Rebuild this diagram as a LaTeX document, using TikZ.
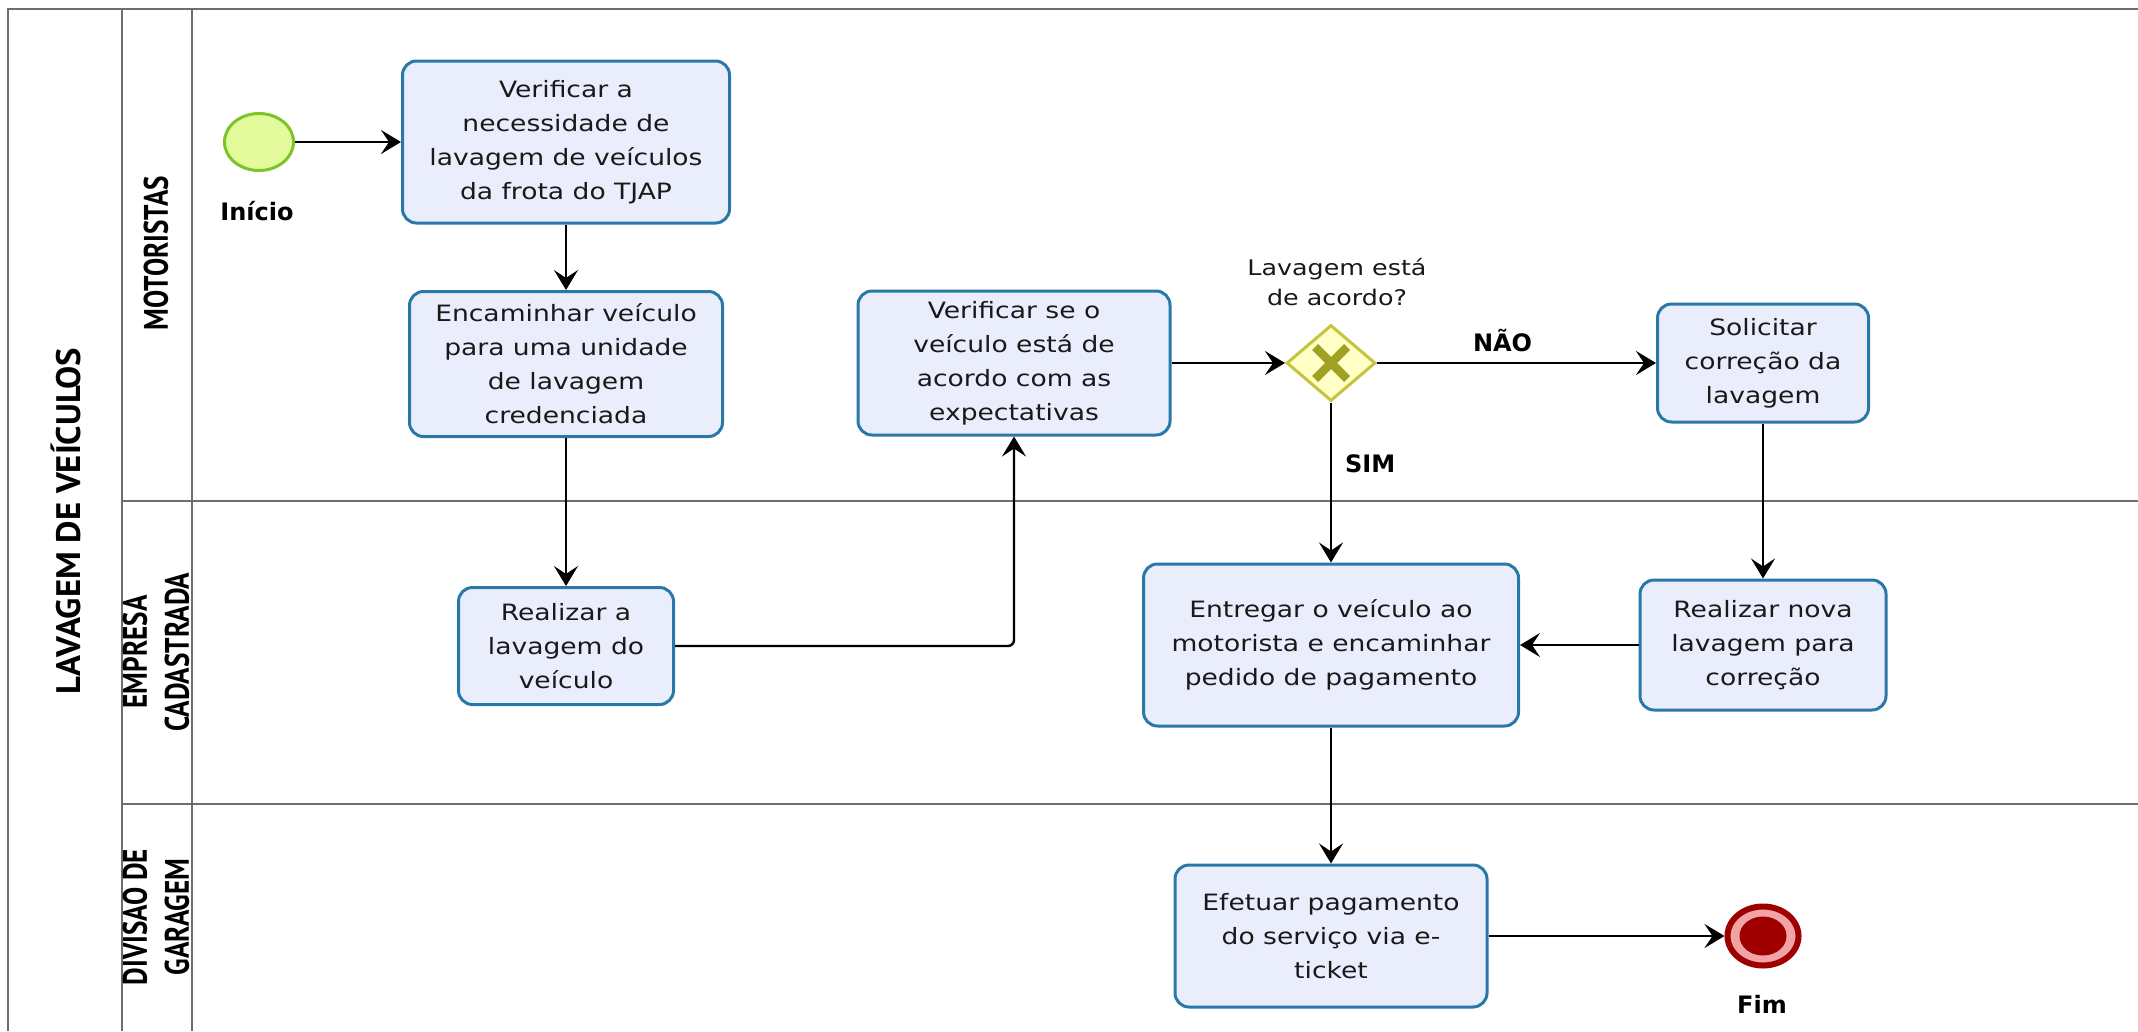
\documentclass[tikz,border=0pt]{standalone}
\usepackage{fontspec}
\usetikzlibrary{shapes.geometric,arrows.meta}
\newfontfamily\taskfont[FakeStretch=1.18]{DejaVu Sans}
\newfontfamily\evfont{DejaVu Sans}
\newfontfamily\lanefont[FakeStretch=0.8]{PT Sans}
\newfontfamily\poolfont[FakeStretch=1.02]{PT Sans}
\definecolor{taskfill}{HTML}{EAEEFC}
\definecolor{taskdraw}{HTML}{2A78A8}
\definecolor{startfill}{HTML}{E4FB9C}
\definecolor{startdraw}{HTML}{7CC42A}
\definecolor{gatefill}{HTML}{FFFFC6}
\definecolor{gatedraw}{HTML}{C4C43E}
\definecolor{gatemark}{HTML}{A0A024}
\definecolor{endfill}{HTML}{F0A4A4}
\definecolor{enddark}{HTML}{9E0000}
\definecolor{laneline}{HTML}{6E6E6E}
\begin{document}
\begin{tikzpicture}[x=1pt,y=-1pt,
  task/.style={draw=taskdraw, fill=taskfill, line width=3pt, rounded corners=14pt, align=center, inner sep=0pt, text=black!90, font=\taskfont\fontsize{22.5}{34}\selectfont},
  flow/.style={line width=2.4pt, -{Stealth[length=20pt,width=24pt,inset=8pt]}},
  lane/.style={draw=laneline, line width=2.5pt},
  lanelabel/.style={rotate=90, align=center, font=\lanefont\bfseries\fontsize{34}{42}\selectfont},
  evlabel/.style={inner sep=0pt, font=\evfont\bfseries\fontsize{24}{28}\selectfont},
  gatelabel/.style={align=center, inner sep=0pt, text=black!90, font=\taskfont\fontsize{21.5}{30}\selectfont}]
\useasboundingbox (0,0) rectangle (2138,1031);
\draw[lane] (2138,9) -- (8,9) -- (8,1031);
\draw[lane] (122,9) -- (122,1031);
\draw[lane] (192,9) -- (192,1031);
\draw[lane] (122,501) -- (2138,501);
\draw[lane] (122,804) -- (2138,804);
\node[rotate=90, font=\poolfont\bfseries\fontsize{34}{40}\selectfont] (pool) at (66,521) {LAVAGEM DE VEÍCULOS};
\node[lanelabel] (motoristas) at (156,253) {MOTORISTAS};
\node[lanelabel] (empresa) at (156,652) {EMPRESA\\CADASTRADA};
\node[lanelabel] (divisao) at (156,917) {DIVISAO DE\\GARAGEM};

\node[ellipse, draw=startdraw, fill=startfill, line width=3pt, minimum width=69pt, minimum height=57pt, inner sep=0pt] (inicio) at (259,142) {};
\node[evlabel] (inicioL) at (257,211) {Início};
\node[task, minimum width=327pt, minimum height=162pt] (verificar) at (566,142) {Verificar a\\necessidade de\\lavagem de veículos\\da frota do TJAP};
\node[task, minimum width=313pt, minimum height=145pt] (encaminhar) at (566,364) {Encaminhar veículo\\para uma unidade\\de lavagem\\credenciada};
\node[task, minimum width=215pt, minimum height=117pt] (realizar) at (566,646) {Realizar a\\lavagem do\\veículo};
\node[task, minimum width=312pt, minimum height=144pt] (conferir) at (1014,363) {Verificar se o\\veículo está de\\acordo com as\\expectativas};
\node[diamond, draw=gatedraw, fill=gatefill, line width=3pt, minimum width=89pt, minimum height=76pt, inner sep=0pt] (gate) at (1331,363) {};
\draw[gatemark, line width=8.5pt] ([shift={(-16,-16)}]gate.center) -- ([shift={(16,16)}]gate.center);
\draw[gatemark, line width=8.5pt] ([shift={(-16,16)}]gate.center) -- ([shift={(16,-16)}]gate.center);
\node[gatelabel] (gateL) at (1337,282) {Lavagem está\\de acordo?};
\node[task, minimum width=211pt, minimum height=118pt] (solicitar) at (1763,363) {Solicitar\\correção da\\lavagem};
\node[task, minimum width=375pt, minimum height=162pt] (entregar) at (1331,645) {Entregar o veículo ao\\motorista e encaminhar\\pedido de pagamento};
\node[task, minimum width=246pt, minimum height=130pt] (refazer) at (1763,645) {Realizar nova\\lavagem para\\correção};
\node[task, minimum width=312pt, minimum height=142pt] (efetuar) at (1331,936) {Efetuar pagamento\\do serviço via e-\\ticket};
\node[ellipse, draw=enddark, fill=endfill, line width=6pt, minimum width=71pt, minimum height=59pt, inner sep=0pt] (fim) at (1763,936) {};
\node[ellipse, fill=enddark, minimum width=47pt, minimum height=39pt, inner sep=0pt] (fimC) at (fim.center) {};
\node[evlabel] (fimL) at (1762,1004) {Fim};

\draw[flow] (inicio) -- (verificar);
\draw[flow] (verificar) -- (encaminhar);
\draw[flow] (encaminhar) -- (realizar);
\draw[flow, rounded corners=6pt] (realizar) -| (conferir);
\draw[flow] (conferir) -- (gate);
\draw[flow] (gate) -- node[evlabel, pos=0.45, above=10pt] {NÃO} (solicitar);
\draw[flow] (gate) -- node[evlabel, pos=0.38, right=13pt] {SIM} (entregar);
\draw[flow] (solicitar) -- (refazer);
\draw[flow] (refazer) -- (entregar);
\draw[flow] (entregar) -- (efetuar);
\draw[flow] (efetuar) -- (fim);
\end{tikzpicture}
\end{document}
